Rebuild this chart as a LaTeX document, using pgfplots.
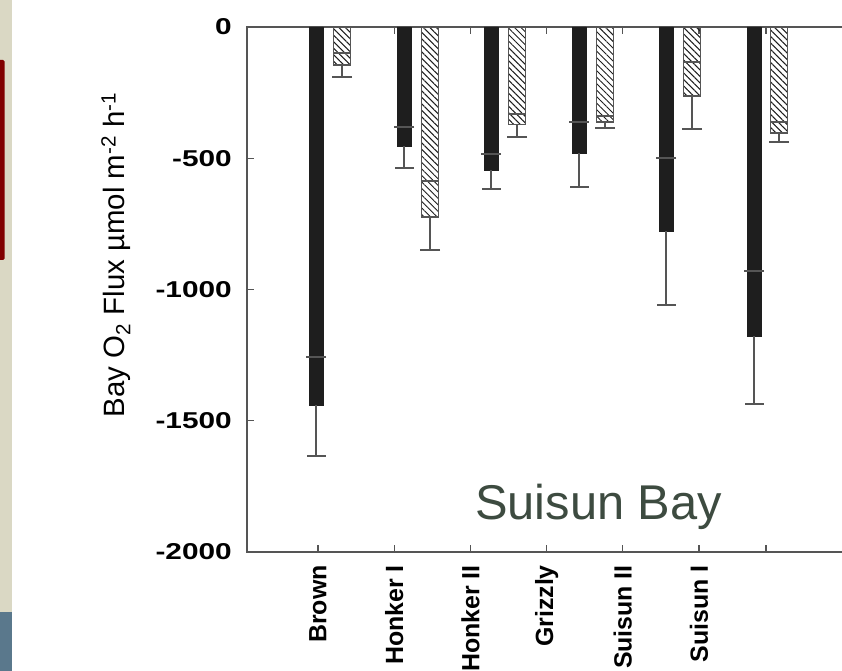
\documentclass[border=0pt]{standalone}
\usepackage{pgfplots}
\pgfplotsset{compat=1.18}
\usepackage{pgfplotstable}
\usepackage{fontspec}
\setmainfont{Liberation Sans}
\usetikzlibrary{patterns.meta}

\definecolor{barblack}{RGB}{30,30,30}
\definecolor{axisgray}{RGB}{85,85,85}
\definecolor{suisun}{RGB}{61,75,64}
\definecolor{beige}{RGB}{218,216,196}
\definecolor{slidered}{RGB}{128,0,0}
\definecolor{slideblue}{RGB}{90,120,140}

\pgfplotstableread{
x y e m
316 -1440 194 -1257
404 -453 84 -381
491 -545 72 -484
579 -480 130 -362
666 -777 282 -499
754 -1177 259 -930
}\blackdata

\pgfplotstableread{
x y e m
342 -145 45 -99
430 -724 126 -587
517 -373 46 -331
605 -362 23 -339
692 -263 126 -133
779 -404 34 -362
}\hatchdata

\begin{document}
\begin{tikzpicture}[x=1bp,y=1bp]
\begin{scope}
\clip (0,0) rectangle (842,671);
\fill[white] (0,0) rectangle (842,671);
\fill[beige] (0,0) rectangle (12,671);
\fill[slidered, rounded corners=1.5bp] (-3,411) rectangle (4.7,611);
\fill[slideblue] (0,0) rectangle (12,59);

\begin{axis}[
  at={(247bp,119bp)}, anchor=south west,
  scale only axis, width=640bp, height=525bp,
  xmin=247, xmax=887, ymin=-2000, ymax=0,
  axis line style={axisgray, line width=1.2bp},
  tick style={axisgray, line width=1.2bp},
  tick align=inside, major tick length=7bp,
  xtick={318,394.2,470.4,546.6,622.8,699,766},
  xticklabels={Brown,Honker I,Honker II,Grizzly,Suisun II,Suisun I,{}},
  xticklabel style={rotate=90, anchor=east, inner sep=0pt,
     font=\fontsize{25}{29}\selectfont\bfseries},
  xticklabel shift=13bp,
  ytick={-2000,-1500,-1000,-500,0},
  yticklabels={{-2000},{-1500},{-1000},{-500},{0}},
  yticklabel style={anchor=east, inner sep=0pt, xscale=1.3,
     font=\fontsize{23}{27}\selectfont\bfseries},
  yticklabel shift=15bp,
  ylabel={Bay O\textsubscript{2} Flux µmol m\textsuperscript{-2} h\textsuperscript{-1}},
  ylabel style={at={(axis description cs:-0.2047,0.566)}, anchor=center,
     font=\fontsize{29.5}{34}\selectfont},
  clip=false,
]
\addplot[ybar, bar width=14, bar shift=0, fill=barblack, draw=barblack,
  error bars/.cd, y dir=minus, y explicit, error mark=|,
  error bar style={axisgray, line width=1.3bp},
  error mark options={axisgray, line width=1.3bp, mark size=9.5bp}]
  table[x=x, y=y, y error=e] {\blackdata};
\addplot[ybar, bar width=17, bar shift=0, draw=axisgray, line width=1.1bp,
  pattern={Lines[angle=-45, distance=4.6bp, line width=1bp]}, pattern color=barblack,
  error bars/.cd, y dir=minus, y explicit, error mark=|,
  error bar style={axisgray, line width=1.3bp},
  error mark options={axisgray, line width=1.3bp, mark size=10bp}]
  table[x=x, y=y, y error=e] {\hatchdata};
\addplot[only marks, mark=-, mark size=10bp, mark options={axisgray, line width=1.3bp}]
  table[x=x, y=m] {\blackdata};
\addplot[only marks, mark=-, mark size=8.5bp, mark options={axisgray, line width=1.3bp}]
  table[x=x, y=m] {\hatchdata};
\end{axis}

\node[anchor=base west, text=suisun, font=\fontsize{49}{58}\selectfont, inner sep=0pt]
  at (475,151) {Suisun Bay};
\end{scope}
\pgfresetboundingbox
\useasboundingbox (0,0) rectangle (842,671);
\end{tikzpicture}
\end{document}
